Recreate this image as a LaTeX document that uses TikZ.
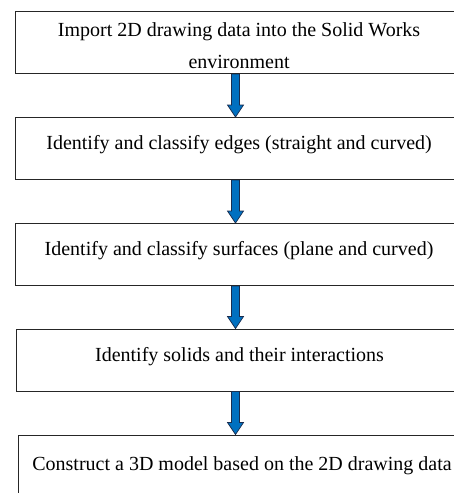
\documentclass[tikz,border=0pt]{standalone}
\usepackage{fontspec}
\setmainfont{Liberation Serif}
\usetikzlibrary{calc}

\definecolor{flowblue}{RGB}{0,112,192}
\definecolor{flowedge}{RGB}{25,45,80}

\tikzset{
  stepbox/.style={draw=black!85, line width=1.1pt, rectangle, anchor=north west,
    minimum width=447pt, minimum height=62pt, inner sep=0pt, align=center,
    font=\fontsize{20}{32}\selectfont},
  oneline/.style={text height=14pt, text depth=12pt},
  flowarrow/.style={fill=flowblue, draw=flowedge, line width=0.7pt, line join=miter},
}

% thick block arrow from the bottom of #1 to the top of #2
\newcommand\blockarrow[2]{%
  \filldraw[flowarrow]
    ($(ax|-#1.south)+(-4,0)$) -- ($(ax|-#2.north)+(-4,12)$)
    -- ($(ax|-#2.north)+(-8,12)$) -- (ax|-#2.north)
    -- ($(ax|-#2.north)+(8,12)$) -- ($(ax|-#2.north)+(4,12)$)
    -- ($(ax|-#1.south)+(4,0)$) -- cycle;}

\begin{document}
\begin{tikzpicture}[x=1pt,y=1pt]
\useasboundingbox (0,0) rectangle (454,-493);

\coordinate (ax) at (235.5,0);

\node[stepbox] (b1) at (15,-11)
  {\rule{0pt}{20pt}Import 2D drawing data into the Solid Works\\environment};
\node[stepbox,oneline] (b2) at (15,-117)
  {Identify and classify edges (straight and curved)};
\node[stepbox,oneline] (b3) at (15,-223)
  {Identify and classify surfaces (plane and curved)};
\node[stepbox,oneline] (b4) at (15.5,-328.5)
  {Identify solids and their interactions};
\node[stepbox,text height=17pt,text depth=9pt] (b5) at (18,-434.5)
  {Construct a 3D model based on the 2D drawing data};

\blockarrow{b1}{b2}
\blockarrow{b2}{b3}
\blockarrow{b3}{b4}
\blockarrow{b4}{b5}
\end{tikzpicture}
\end{document}
